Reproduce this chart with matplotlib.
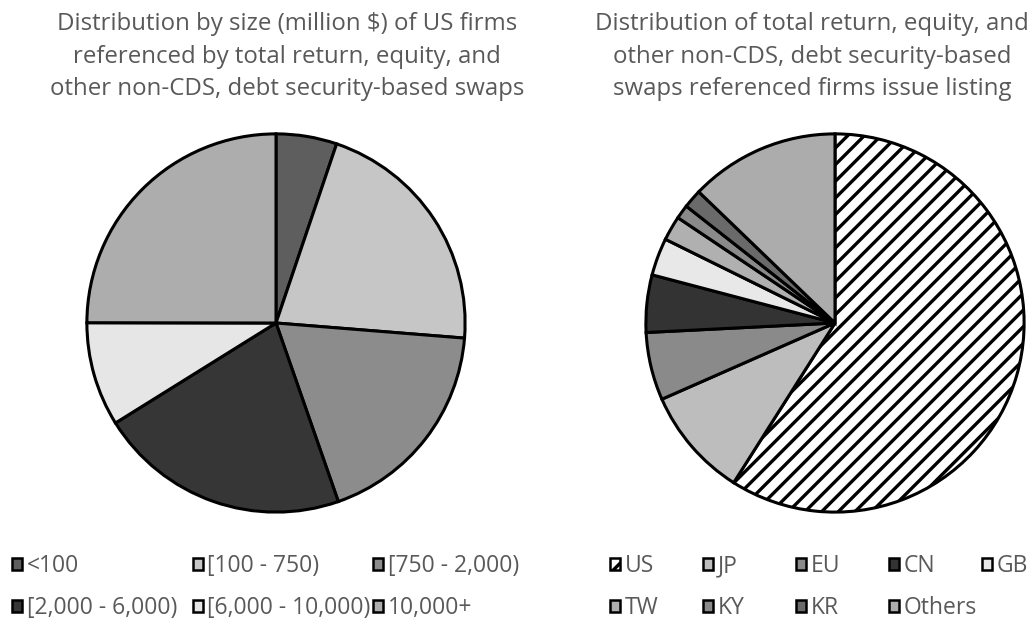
import matplotlib
matplotlib.use("Agg")
from matplotlib import pyplot as plt
from matplotlib.patches import Patch

plt.rcParams['font.family'] = ['Open Sans', 'DejaVu Sans']
plt.rcParams['hatch.linewidth'] = 2.4

# left pie: size buckets (million $)
size_labels = ['<100', '[100 - 750)', '[750 - 2,000)',
               '[2,000 - 6,000)', '[6,000 - 10,000)', '10,000+']
size_shares = [5.2, 21.1, 18.4, 21.5, 8.9, 25.0]
size_colors = ['#5e5e5e', '#c6c6c6', '#8c8c8c', '#363636', '#e6e6e6', '#adadad']

# right pie: issuer listing
geo_labels = ['US', 'JP', 'EU', 'CN', 'GB', 'TW', 'KY', 'KR', 'Others']
geo_shares = [59.0, 9.4, 5.8, 4.9, 3.2, 2.1, 1.2, 1.6, 12.8]
geo_colors = ['white', '#bdbdbd', '#8a8a8a', '#333333', '#e8e8e8',
              '#b0b0b0', '#8a8a8a', '#6a6a6a', '#acacac']
geo_hatch = ['//', None, None, None, None, None, None, None, None]

title_left = ('Distribution by size (million $) of US firms\n'
              'referenced by total return, equity, and\n'
              'other non-CDS, debt security-based swaps')
title_right = ('Distribution of total return, equity, and\n'
               'other non-CDS, debt security-based\n'
               'swaps referenced firms issue listing')

W, H = 1033, 622
text_gray = '#595959'
fig = plt.figure(figsize=(W / 100, H / 100), dpi=100)


def pie_axes(cx, cy, r):
    return fig.add_axes([(cx - r) / W, (H - cy - r) / H, 2 * r / W, 2 * r / H])


def draw_pie(ax, shares, colors, hatches=None):
    wedges, _ = ax.pie(shares, colors=colors, startangle=90, counterclock=False,
                       radius=1.0,
                       wedgeprops=dict(edgecolor='black', linewidth=2.2))
    if hatches:
        for w, h in zip(wedges, hatches):
            if h:
                w.set_hatch(h)
    ax.set_xlim(-1.01, 1.01)
    ax.set_ylim(-1.01, 1.01)
    return wedges


ax1 = pie_axes(276, 323, 191)
draw_pie(ax1, size_shares, size_colors)
ax2 = pie_axes(835, 323, 191)
draw_pie(ax2, geo_shares, geo_colors, geo_hatch)

fig.text(287 / W, 1 - 12 / H, title_left, ha='center', va='top',
         fontsize=17.3, color=text_gray, linespacing=1.48)
fig.text(812 / W, 1 - 12 / H, title_right, ha='center', va='top',
         fontsize=17.3, color=text_gray, linespacing=1.48)


def legend_grid(labels, colors, hatches, x0, dx, ncol, rows_y):
    for i, (lab, col) in enumerate(zip(labels, colors)):
        r, c = divmod(i, ncol)
        h = hatches[i] if hatches else None
        handle = Patch(facecolor=col, edgecolor='black', linewidth=1.8, hatch=h)
        fig.legend([handle], [lab], loc='center left',
                   bbox_to_anchor=((x0 + c * dx) / W, 1 - rows_y[r] / H),
                   frameon=False, fontsize=16.5, labelcolor=text_gray,
                   handlelength=0.45, handleheight=0.45, handletextpad=0.2,
                   borderpad=0, borderaxespad=0)


legend_grid(size_labels, size_colors, None, 12, 180.5, 3, [566, 608])
legend_grid(geo_labels, geo_colors, geo_hatch, 610, 93, 5, [566, 608])

fig.savefig('out.png', dpi=100, facecolor='white')
